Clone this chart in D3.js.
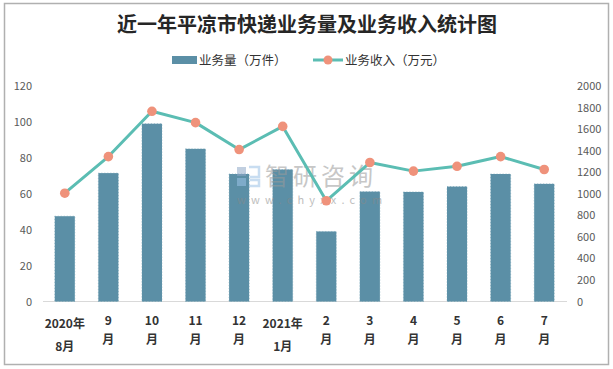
<!DOCTYPE html>
<html>
<head>
<meta charset="utf-8">
<script src="https://cdn.jsdelivr.net/npm/d3@7"></script>
<style>
    body { margin: 0; background: #fff; }
    text { font-family: "Noto Sans CJK SC", "Noto Sans", sans-serif; }
</style>
</head>
<body>
<div id="chart"></div>
<script>
// data
let months = ['2020年8月', '9月', '10月', '11月', '12月', '2021年1月', '2月', '3月', '4月', '5月', '6月', '7月'];
let labelTop = ['2020年', '9', '10', '11', '12', '2021年', '2', '3', '4', '5', '6', '7'];
let labelBottom = ['8月', '月', '月', '月', '月', '1月', '月', '月', '月', '月', '月', '月'];
let volume = [47.5, 71.5, 99, 85, 71, 73.5, 39, 61.2, 61, 64, 71, 65.5];
let revenue = [1005, 1345, 1765, 1660, 1410, 1625, 935, 1290, 1210, 1255, 1345, 1225];
let leftTicks = [0, 20, 40, 60, 80, 100, 120];
let rightTicks = [0, 200, 400, 600, 800, 1000, 1200, 1400, 1600, 1800, 2000];

let width = 613, height = 369;
let barColor = '#5b8fa6', lineColor = '#5bbdb3', dotColor = '#ef927b';

let svg = d3.select('#chart').append('svg').attr('width', width).attr('height', height);

// outer frame
svg.append('rect').attr('x', 4.5).attr('y', 3.5).attr('width', 604).attr('height', 361)
    .attr('fill', '#fff').attr('stroke', '#b0b0b0').attr('stroke-width', 1.5);

let x = d3.scaleBand().domain(months).range([43, 566]).paddingInner(0.54).paddingOuter(0.27);
let yL = d3.scaleLinear().domain([0, 120]).range([301.5, 86]);
let yR = d3.scaleLinear().domain([0, 2000]).range([301.5, 86]);

// title
svg.append('text').attr('x', 307).attr('y', 32).attr('text-anchor', 'middle')
    .attr('font-size', 20).attr('font-weight', 'bold').attr('fill', '#262626')
    .text('近一年平凉市快递业务量及业务收入统计图');

// legend
let legend = svg.append('g').attr('font-size', 12.5).attr('fill', '#333');
legend.append('rect').attr('x', 172).attr('y', 56).attr('width', 25).attr('height', 8).attr('fill', barColor);
legend.append('text').attr('x', 199).attr('y', 65).text('业务量（万件）');
legend.append('line').attr('x1', 313).attr('x2', 343).attr('y1', 60).attr('y2', 60)
    .attr('stroke', lineColor).attr('stroke-width', 3);
legend.append('circle').attr('cx', 328).attr('cy', 60).attr('r', 4.5).attr('fill', dotColor);
legend.append('text').attr('x', 345).attr('y', 65).text('业务收入（万元）');

// axes
let leftAxis = svg.append('g').attr('transform', 'translate(32,0)')
    .call(d3.axisLeft(yL).tickValues(leftTicks).tickSize(0).tickPadding(0).tickFormat(d3.format('d')));
let rightAxis = svg.append('g').attr('transform', 'translate(577,0)')
    .call(d3.axisRight(yR).tickValues(rightTicks).tickSize(0).tickPadding(0).tickFormat(d3.format('d')));
[leftAxis, rightAxis].forEach(function(a) {
    a.select('.domain').remove();
    a.selectAll('text').attr('font-size', 11).attr('fill', '#595959')
        .attr('font-family', '"Liberation Sans", "Noto Sans", sans-serif');
});

svg.append('line').attr('x1', 43).attr('x2', 567).attr('y1', yL(0)).attr('y2', yL(0))
    .attr('stroke', '#d9d9d9').attr('stroke-width', 1);

// bars
svg.append('g').selectAll('rect').data(months).enter().append('rect')
    .attr('x', d => x(d))
    .attr('y', (d, i) => yL(volume[i]))
    .attr('width', x.bandwidth())
    .attr('height', (d, i) => yL(0) - yL(volume[i]))
    .attr('fill', barColor)
    .attr('stroke', '#6f9fb3').attr('stroke-width', 0.6).attr('stroke-dasharray', '1,2');

// watermark
let wm = svg.append('g').attr('opacity', 0.55);
wm.append('rect').attr('x', 237).attr('y', 167).attr('width', 9).attr('height', 9).attr('fill', '#8fa8c8');
wm.append('rect').attr('x', 237).attr('y', 178).attr('width', 9).attr('height', 8).attr('fill', '#9cc3e6');
wm.append('path').attr('d', 'M249,167 H259 V177 H250 M250,180 H259 V186 H249')
    .attr('fill', 'none').attr('stroke', '#9cc3e6').attr('stroke-width', 2.5);
wm.append('text').attr('x', 265).attr('y', 185).attr('font-size', 24).attr('fill', '#9a9a9a')
    .attr('letter-spacing', 4).text('智研咨询');
wm.append('text').attr('x', 237).attr('y', 204).attr('font-size', 11).attr('fill', '#8a8a8a')
    .attr('letter-spacing', 5.2).attr('font-family', '"DejaVu Sans", sans-serif').text('www.chyxx.com');

// revenue line
let cx = d => x(d) + x.bandwidth() / 2;
svg.append('path')
    .attr('d', d3.line().x(d => cx(d)).y((d, i) => yR(revenue[i]))(months))
    .attr('fill', 'none').attr('stroke', lineColor).attr('stroke-width', 3).attr('stroke-linejoin', 'round');
svg.append('g').selectAll('circle').data(months).enter().append('circle')
    .attr('cx', d => cx(d))
    .attr('cy', (d, i) => yR(revenue[i]))
    .attr('r', 4.8)
    .attr('fill', dotColor);

// category labels, two lines each
let lab = svg.append('g').attr('font-size', 12).attr('font-weight', 'bold').attr('fill', '#333')
    .attr('text-anchor', 'middle');
lab.selectAll('text.top').data(months).enter().append('text').attr('class', 'top')
    .attr('x', d => cx(d))
    .attr('y', (d, i) => labelTop[i].length > 2 ? 328 : 325)
    .text((d, i) => labelTop[i]);
lab.selectAll('text.bottom').data(months).enter().append('text').attr('class', 'bottom')
    .attr('x', d => cx(d))
    .attr('y', (d, i) => labelBottom[i].length > 1 ? 351 : 344)
    .text((d, i) => labelBottom[i]);
</script>
</body>
</html>
